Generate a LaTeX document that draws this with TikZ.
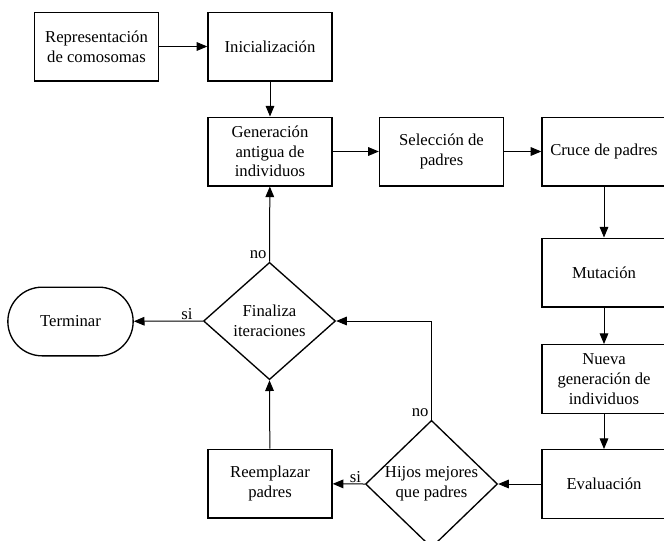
\documentclass[tikz,border=0pt]{standalone}
\usepackage{fontspec}
\setmainfont{Liberation Serif}
\usetikzlibrary{shapes.geometric,shapes.misc,arrows.meta}
\begin{document}
\begin{tikzpicture}[x=0.75pt,y=-0.75pt,
  every node/.style={font=\rmfamily\fontsize{12.5}{14.8}\selectfont},
  box/.style={draw,line width=1pt,minimum width=93pt,minimum height=51.5pt,inner sep=0pt,align=center},
  dec/.style={draw,diamond,line width=1pt,minimum width=99pt,minimum height=88pt,inner sep=0pt,align=center},
  term/.style={draw,rounded rectangle,line width=1pt,minimum width=94pt,minimum height=51.5pt,inner sep=0pt},
  conn/.style={line width=0.75pt,-{Triangle[length=8pt,width=6.5pt]}},
  lab/.style={inner sep=1pt}]
\clip (0,0) rectangle (664,540);
\fill[white] (0,0) rectangle (664,540);
\node[box] (rep) at (96.5,46.5) {Representación\\de comosomas};
\node[box] (ini) at (270,46.5) {Inicialización};
\node[box] (gen) at (270,151.5) {Generación\\antigua de\\individuos};
\node[box] (sel) at (441.5,151.5) {Selección de\\padres};
\node[box] (cru) at (604,151.5) {Cruce de padres};
\node[box] (mut) at (604,272.5) {Mutación};
\node[box] (nue) at (604,379) {Nueva\\generación de\\individuos};
\node[box] (eva) at (604,484) {Evaluación};
\node[dec] (hij) at (431.5,484) {Hijos mejores\\que padres};
\node[box] (ree) at (270,483.5) {Reemplazar\\padres};
\node[dec] (fin) at (269.5,321) {Finaliza\\iteraciones};
\node[term] (ter) at (70.5,321.5) {Terminar};
\coordinate (c1) at (431.5,321);
\draw[conn] (rep) -- (ini);
\draw[conn] (ini) -- (gen);
\draw[conn] (gen) -- (sel);
\draw[conn] (sel) -- (cru);
\draw[conn] (cru) -- (mut);
\draw[conn] (mut) -- (nue);
\draw[conn] (nue) -- (eva);
\draw[conn] (eva) -- (hij.east);
\draw[conn] (hij.west) -- (ree);
\draw[conn] (hij.north) -- (c1) -- (fin.east);
\draw[conn] (ree) -- (fin.south);
\draw[conn] (fin.north) -- (gen);
\draw[conn] (fin.west) -- (ter);
\node[lab,anchor=south east] (l1) at ([xshift=-1pt,yshift=1pt]fin.north) {no};
\node[lab,anchor=south] (l2) at ([xshift=-12pt]fin.west) {si};
\node[lab,anchor=south east] (l3) at ([xshift=-1pt,yshift=1pt]hij.north) {no};
\node[lab,anchor=south] (l4) at ([xshift=-7pt]hij.west) {si};
\end{tikzpicture}
\end{document}
